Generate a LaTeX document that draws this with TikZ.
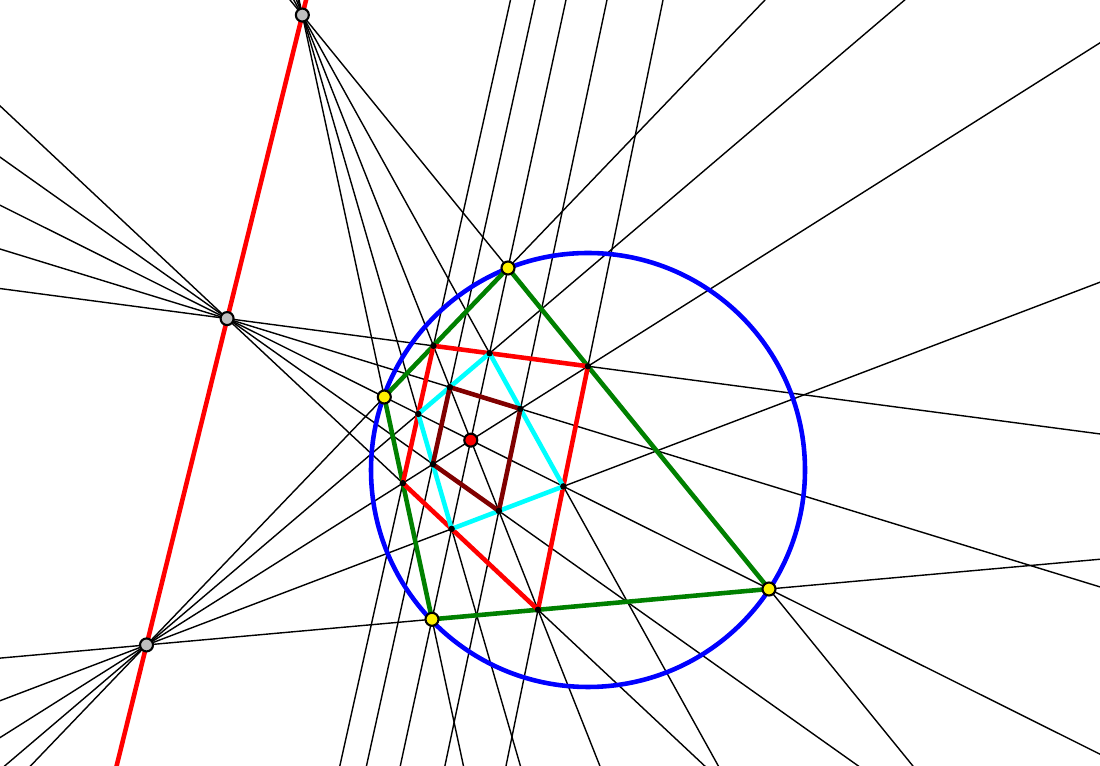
\documentclass[tikz,border=0pt]{standalone}
\usetikzlibrary{calc}
\definecolor{aqua}{RGB}{0,255,255}
\definecolor{leafgreen}{RGB}{0,128,0}
\definecolor{maroon}{RGB}{128,0,0}
\tikzset{
  guide/.style={black,line width=0.4pt},
  side/.style={line width=1.3pt,line join=round},
  bigdot/.style={circle,draw=black,line width=0.6pt,inner sep=0pt,minimum size=0.13cm},
  smalldot/.style={circle,fill=black,inner sep=0pt,minimum size=0.065cm}
}
\begin{document}
\begin{tikzpicture}
\useasboundingbox (0,0) rectangle (11,-7.66);
\clip (0,0) rectangle (11,-7.66);
\coordinate (Oc) at (5.88,-4.70);
\coordinate (A) at (5.08,-2.68);
\coordinate (B) at (3.843,-3.97);
\coordinate (C) at (4.32,-6.193);
\coordinate (D) at (7.69,-5.89);
\coordinate (O) at (intersection of A--C and B--D);
\coordinate (P1) at (intersection of A--D and B--C);
\coordinate (P3) at (intersection of A--B and C--D);
\coordinate (E) at (intersection of P1--O and A--B);
\coordinate (G) at (intersection of P1--O and C--D);
\coordinate (F) at (intersection of P3--O and A--D);
\coordinate (H) at (intersection of P3--O and B--C);
\coordinate (P2) at (intersection of E--F and G--H);
\coordinate (I) at (intersection of A--C and E--F);
\coordinate (J) at (intersection of B--D and F--G);
\coordinate (K) at (intersection of A--C and G--H);
\coordinate (L) at (intersection of B--D and H--E);
\coordinate (M) at (intersection of P1--O and I--L);
\coordinate (N) at (intersection of P3--O and I--J);
\coordinate (Q) at (intersection of P1--O and J--K);
\coordinate (R) at (intersection of P3--O and K--L);
\foreach \u/\v in {A/D,B/C,E/G,I/J,K/L, E/F,G/H,B/D,M/N,Q/R, A/B,C/D,F/H,I/L,J/K, E/H,F/G,A/C,M/R,N/Q}
  \draw[guide] ($(\u)!-16cm!(\v)$) -- ($(\v)!-16cm!(\u)$);
\draw[red,side] ($(P1)!-16cm!(P3)$) -- ($(P3)!-16cm!(P1)$);
\draw[blue,side] (Oc) circle (2.17);
\draw[leafgreen,side] (A) -- (B) -- (C) -- (D) -- cycle;
\draw[red,side] (E) -- (F) -- (G) -- (H) -- cycle;
\draw[aqua,side] (I) -- (J) -- (K) -- (L) -- cycle;
\draw[maroon,side] (M) -- (N) -- (Q) -- (R) -- cycle;
\foreach \p in {E,F,G,H,I,J,K,L,M,N,Q,R}
  \node[smalldot] (d\p) at (\p) {};
\node[bigdot,fill=red] (dO) at (O) {};
\foreach \p in {A,B,C,D}
  \node[bigdot,fill=yellow] (d\p) at (\p) {};
\foreach \p in {P1,P2,P3}
  \node[bigdot,fill=lightgray] (d\p) at (\p) {};
\end{tikzpicture}
\end{document}
